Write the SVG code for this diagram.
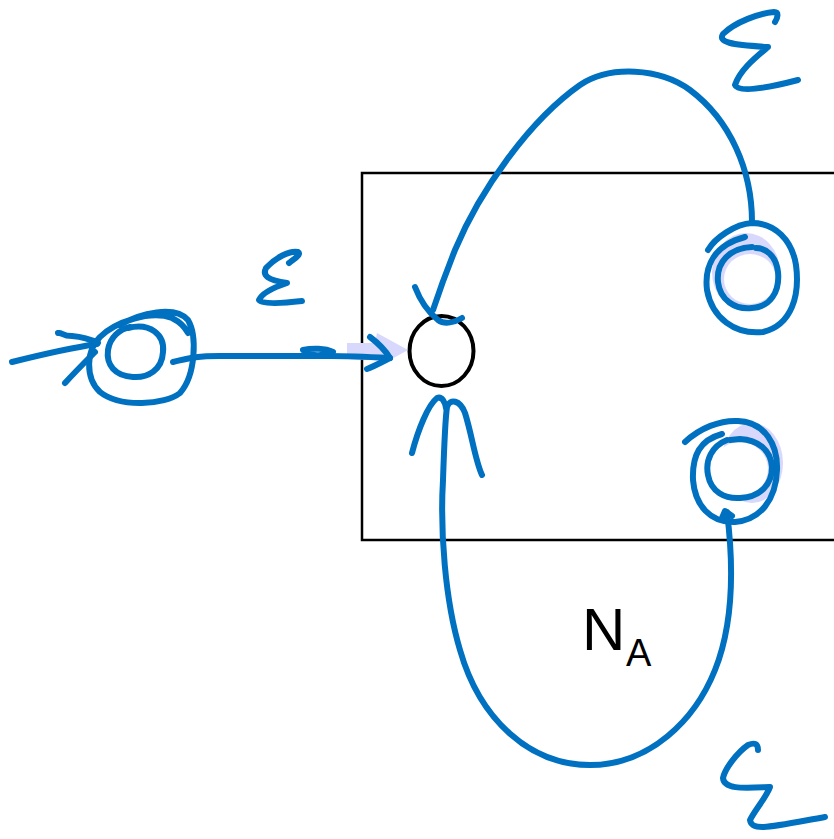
<svg xmlns="http://www.w3.org/2000/svg" width="834" height="839" viewBox="0 0 834 839">
<style>
.ink{fill:none;stroke:#0070C0;stroke-width:6;stroke-linecap:round;stroke-linejoin:round}
.hl{fill:#d8d8fc;stroke:none}
.hole{fill:#fff;stroke:none}
.lbl{font-family:"Liberation Sans",Arial,sans-serif;fill:#000}
</style>
<rect width="834" height="839" fill="#fff"/>
<g id="box">
<rect x="362" y="173" width="500" height="367" fill="none" stroke="#000" stroke-width="2.5"/>
</g>
<g id="label-NA">
<text class="lbl" x="582" y="650" font-size="60">N</text>
<text class="lbl" x="626" y="666" font-size="38">A</text>
</g>
<g id="accept-top">
<ellipse class="hl" cx="746" cy="272" rx="34" ry="39"/>
<ellipse class="hole" cx="750" cy="279" rx="26" ry="25"/>
<path class="ink" d="M708,250 C715,238 735,224 752,223 C775,223 792,240 796,265 C800,295 792,325 763,332 C735,335 712,318 707,290 C704,265 715,245 745,237"/>
<path class="ink" d="M752,247 C730,248 716,262 718,282 C720,300 735,310 752,308 C770,307 780,292 778,272 C776,255 765,248 756,248"/>
</g>
<g id="accept-bottom">
<ellipse class="hl" cx="752" cy="463" rx="31" ry="40"/>
<ellipse class="hole" cx="740" cy="469" rx="28" ry="27"/>
<path class="ink" d="M685,442 C700,428 720,420 738,421 C765,422 778,445 777,470 C776,500 760,520 735,522 C710,523 695,505 693,480 C692,455 700,440 722,434"/>
<path class="ink" d="M727,440 C712,446 705,460 708,475 C711,492 725,499 740,498 C760,497 772,485 772,467 C771,450 758,440 740,439 L730,440"/>
</g>
<g id="start">
<path class="ink" d="M120,325 C140,313 175,305 188,320 C197,335 196,375 180,393 C165,405 120,408 100,392 C85,378 86,350 100,337 C115,322 150,310 172,318 C180,322 185,327 188,333"/>
<path class="ink" d="M128,328 C150,322 165,335 163,352 C162,370 148,378 133,377 C115,376 106,365 108,350 C110,337 120,329 130,327"/>
</g>
<g id="entry">
<ellipse cx="441.5" cy="351" rx="32" ry="35" fill="none" stroke="#000" stroke-width="4"/>
</g>
<g id="connectors">
<path class="ink" d="M12,362 C40,355 70,348 97,344"/>
<path class="ink" d="M58,333 C62,332 62,336 72,336 C85,337 92,340 98,343"/>
<path class="ink" d="M65,383 C75,372 85,362 95,352"/>
<polygon class="hl" points="347,343 375,343 377,333 408,350 388,361 347,359"/>
<path class="ink" d="M173,362 C190,358 195,356 220,356 L330,356 C350,356 370,357 390,358"/>
<path class="ink" d="M303,350 C312,348 325,348 333,352 C325,356 312,356 305,353"/>
<path class="ink" d="M370,337 C378,343 385,350 390,358 C382,362 375,366 367,369"/>
<path class="ink" d="M752,222 C752,170 730,120 690,90 C660,68 610,65 580,85 C530,120 480,190 455,250 C445,275 438,295 433,310"/>
<path class="ink" d="M415,287 C420,300 428,312 438,320 C445,325 455,322 462,318"/>
<path class="ink" d="M722,518 L725,511 L732,516"/>
<path class="ink" d="M727,512 C733,560 735,620 715,670 C695,720 650,765 590,765 C530,765 480,720 460,650 C445,600 440,530 443,480 C444,450 445,420 447,407 C450,398 460,400 465,413 C472,435 475,460 482,475"/>
<path class="ink" d="M412,453 C418,430 428,405 437,398 C442,396 445,402 446,408"/>
</g>
<g id="epsilon-labels">
<path class="ink" d="M289,263 C293,260 302,254 298,252 C290,250 275,258 266,268 C262,276 268,280 287,283 C275,287 262,293 259,300 C260,305 285,303 302,301"/>
<path class="ink" d="M775,22 C778,17 779,12 774,12 C760,13 735,22 723,34 C718,42 730,45 768,47 C755,58 740,70 735,85 C737,92 760,90 798,80"/>
<path class="ink" d="M758,750 C758,744 755,742 748,745 C738,752 725,768 723,778 C724,790 745,788 770,787 C767,796 755,810 750,820 C752,832 770,827 825,817"/>
</g>
</svg>
